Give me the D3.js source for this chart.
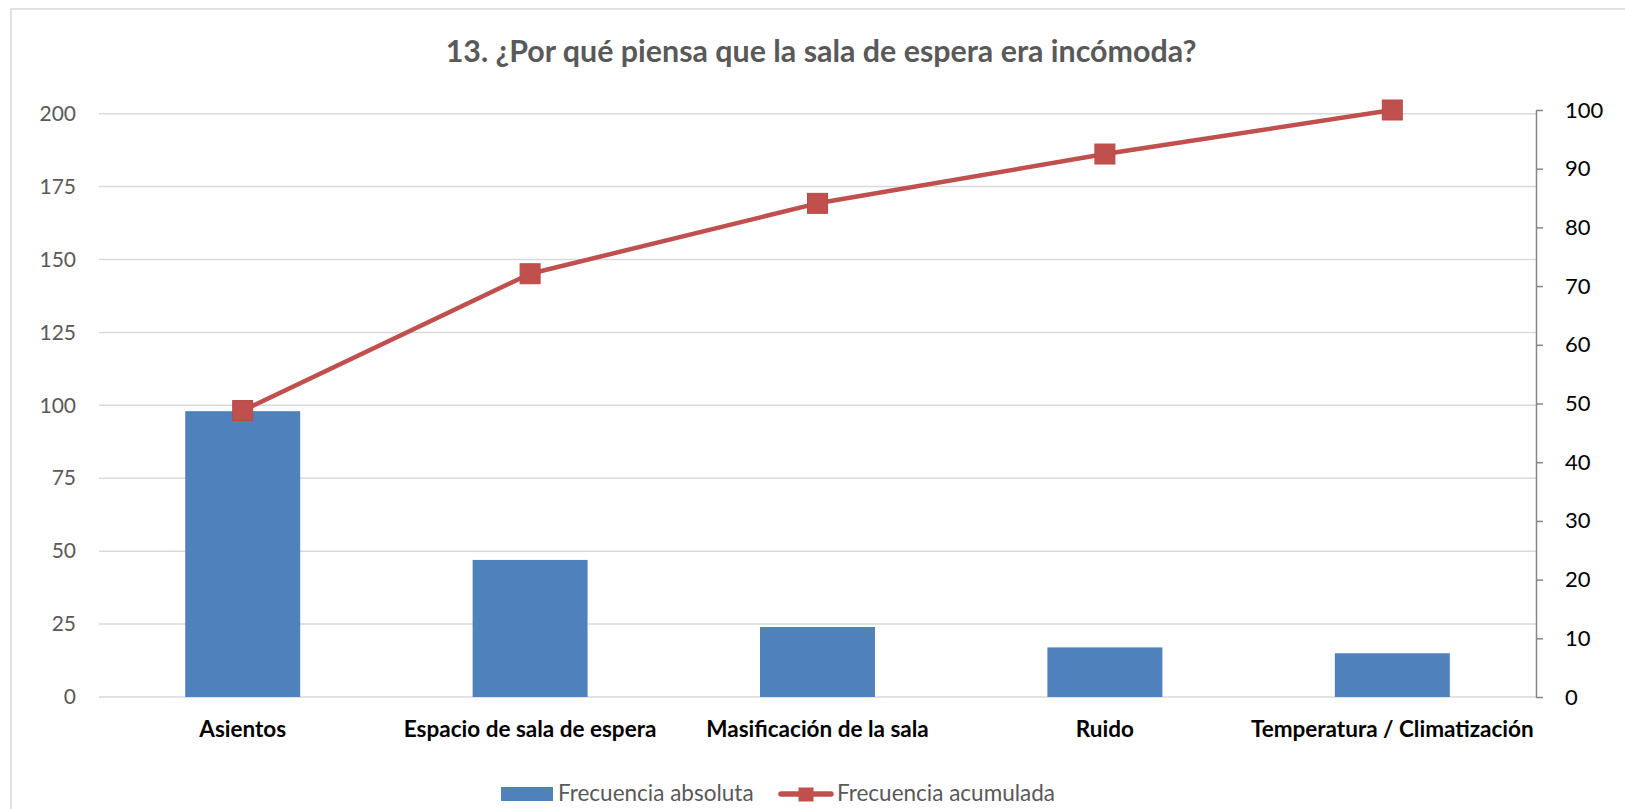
<!DOCTYPE html>
<html>
<head>
<meta charset="utf-8">
<script src="https://cdn.jsdelivr.net/npm/d3@7"></script>
<style>
  html, body { margin: 0; padding: 0; background: #fff; }
  svg { display: block; }
</style>
</head>
<body>
<svg id="chart" width="1625" height="809"></svg>
<script>
// ---- data ----
const titleText = "13. ¿Por qué piensa que la sala de espera era incómoda?";
const categories = ["Asientos", "Espacio de sala de espera", "Masificación de la sala", "Ruido", "Temperatura / Climatización"];
const frecuenciaAbsoluta = [98, 47, 24, 17, 15];
const frecuenciaAcumulada = [48.8, 72.1, 84.1, 92.5, 100];
const leftTicks = [0, 25, 50, 75, 100, 125, 150, 175, 200];
const rightTicks = [0, 10, 20, 30, 40, 50, 60, 70, 80, 90, 100];
const legendLabels = ["Frecuencia absoluta", "Frecuencia acumulada"];

// ---- layout ----
const W = 1625, H = 809;
const plotL = 99, plotR = 1536, plotB = 697;
const barColor = "#4F81BD", lineColor = "#C0504D";
const font = "Lato, 'Open Sans', 'Liberation Sans', sans-serif";

const svg = d3.select("#chart");

// chart border
svg.append("rect").attr("x", 11).attr("y", 9).attr("width", W + 20).attr("height", H + 20)
  .attr("fill", "#fff").attr("stroke", "#d9d9d9").attr("stroke-width", 1.5);

const x = d3.scaleBand().domain(categories).range([plotL, plotR]).paddingInner(0.6).paddingOuter(0.3);
const yL = d3.scaleLinear().domain([0, 200]).range([plotB, 113.7]);
const yR = d3.scaleLinear().domain([0, 100]).range([plotB, 110]);

// gridlines
svg.append("g").selectAll("line").data(leftTicks).join("line")
  .attr("x1", plotL).attr("x2", plotR)
  .attr("y1", d => yL(d)).attr("y2", d => yL(d))
  .attr("stroke", "#d9d9d9").attr("stroke-width", 1.5);

// left axis
const gL = svg.append("g").attr("transform", `translate(${plotL},0)`)
  .call(d3.axisLeft(yL).tickValues(leftTicks).tickSize(0).tickPadding(23));
gL.select(".domain").remove();
gL.selectAll("text").attr("font-family", font).attr("font-size", 21).attr("fill", "#595959");

// right axis
const gR = svg.append("g").attr("transform", `translate(${plotR},0)`)
  .call(d3.axisRight(yR).tickValues(rightTicks).tickSizeInner(7).tickSizeOuter(0).tickPadding(22));
gR.select(".domain").attr("stroke", "#868686").attr("stroke-width", 1.5);
gR.selectAll(".tick line").attr("stroke", "#868686").attr("stroke-width", 1.5);
gR.selectAll("text").attr("font-family", font).attr("font-size", 22).attr("fill", "#000");

// bars
svg.append("g").selectAll("rect").data(categories).join("rect")
  .attr("x", d => x(d)).attr("width", x.bandwidth())
  .attr("y", (d, i) => yL(frecuenciaAbsoluta[i]))
  .attr("height", (d, i) => plotB - yL(frecuenciaAbsoluta[i]))
  .attr("fill", barColor);

// category labels
svg.append("g").selectAll("text").data(categories).join("text")
  .attr("x", d => x(d) + x.bandwidth() / 2).attr("y", 737)
  .attr("text-anchor", "middle")
  .attr("font-family", font).attr("font-weight", "bold").attr("font-size", 22.5).attr("fill", "#000")
  .text(d => d);

// line
const pts = categories.map((c, i) => [x(c) + x.bandwidth() / 2, yR(frecuenciaAcumulada[i])]);
svg.append("path").datum(pts)
  .attr("d", d3.line())
  .attr("fill", "none").attr("stroke", lineColor).attr("stroke-width", 4.5).attr("stroke-linejoin", "round");
const ms = 20;
svg.append("g").selectAll("rect").data(pts).join("rect")
  .attr("x", d => d[0] - ms / 2).attr("y", d => d[1] - ms / 2)
  .attr("width", ms).attr("height", ms)
  .attr("fill", lineColor).attr("stroke", "#b94a47").attr("stroke-width", 1);

// title
svg.append("text").attr("x", 821).attr("y", 62).attr("text-anchor", "middle")
  .attr("font-family", font).attr("font-weight", "bold").attr("font-size", 30.4).attr("fill", "#595959")
  .text(titleText);

// legend
const lg = svg.append("g");
lg.append("rect").attr("x", 501).attr("y", 787).attr("width", 52).attr("height", 14).attr("fill", barColor);
lg.append("text").attr("x", 558).attr("y", 801)
  .attr("font-family", font).attr("font-size", 22.5).attr("fill", "#595959").text(legendLabels[0]);
lg.append("line").attr("x1", 781).attr("x2", 831).attr("y1", 794).attr("y2", 794)
  .attr("stroke", lineColor).attr("stroke-width", 5.5).attr("stroke-linecap", "round");
lg.append("rect").attr("x", 798.5).attr("y", 787.5).attr("width", 15).attr("height", 14).attr("fill", lineColor);
lg.append("text").attr("x", 837).attr("y", 801)
  .attr("font-family", font).attr("font-size", 22.5).attr("fill", "#595959").text(legendLabels[1]);
</script>
</body>
</html>
